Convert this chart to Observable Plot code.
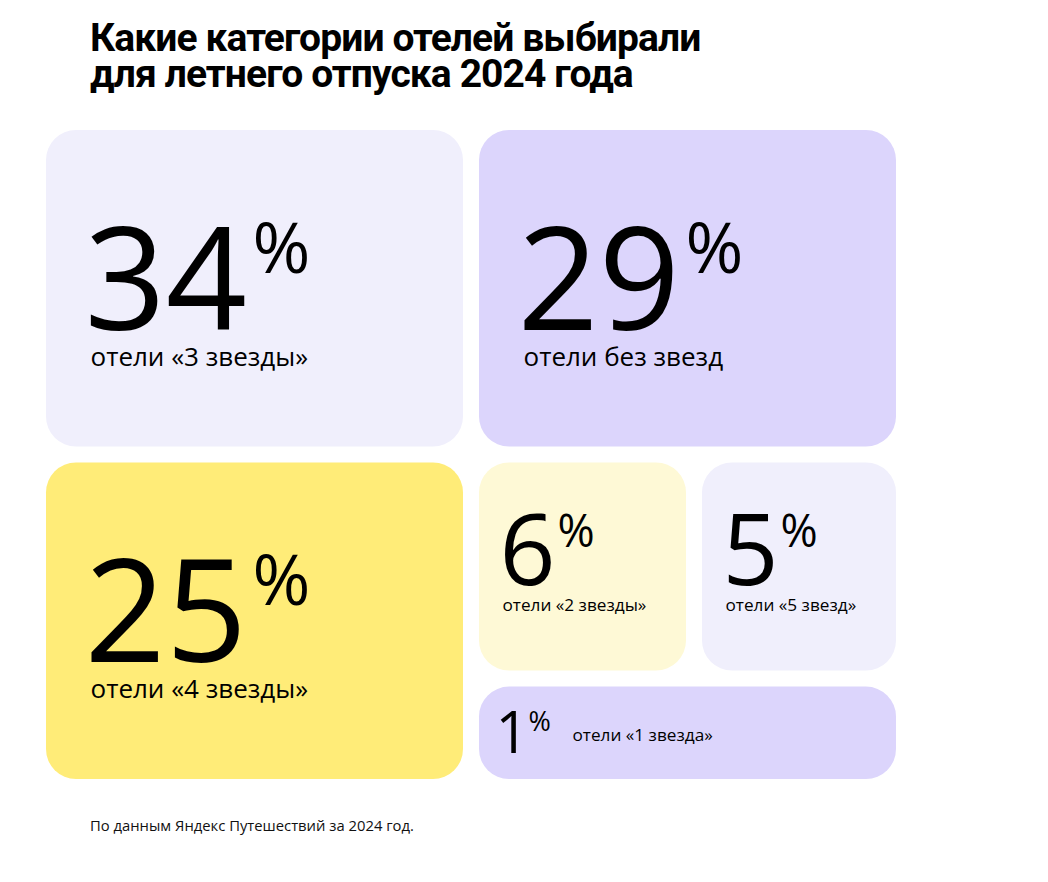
<!DOCTYPE html>
<html>
<head>
<meta charset="utf-8">
<script src="https://cdn.jsdelivr.net/npm/d3@7"></script>
<script src="https://cdn.jsdelivr.net/npm/@observablehq/plot@0.6"></script>
<style>
  html, body { margin: 0; padding: 0; background: #ffffff; }
  #wrap { width: 1048px; height: 882px; position: relative; overflow: hidden; }
  #title { height: 110px; box-sizing: border-box; padding: 20px 0 0 90px; font-family: Roboto, "Open Sans", sans-serif; font-weight: 700; font-size: 39px; line-height: 36px; letter-spacing: -0.9px; color: #000; }
  #chart { height: 690px; }
  #caption { padding: 17px 0 0 90px; font-family: "Open Sans", sans-serif; font-size: 14.8px; line-height: 16px; color: #111; }
  svg text { font-family: "Open Sans", sans-serif; }
</style>
</head>
<body>
<div id="wrap">
  <div id="title">Какие категории отелей выбирали<br>для летнего отпуска 2024 года</div>
  <div id="chart"></div>
  <div id="caption">По данным Яндекс Путешествий за 2024 год.</div>
</div>
<script>
// ---- data ----
const categories = ["отели «3 звезды»", "отели без звезд", "отели «4 звезды»", "отели «2 звезды»", "отели «5 звезд»", "отели «1 звезда»"];
const shares = [34, 29, 25, 6, 5, 1];

// ---- layout (design grid, fractions of the panel) ----
const tileGrid = [
  [0, 0.5, 0, 0.5],
  [0.5, 1, 0, 0.5],
  [0, 0.5, 0.5, 1],
  [0.5, 0.7575, 0.5, 0.837],
  [0.7575, 1, 0.5, 0.837],
  [0.5, 1, 0.837, 1]
];
const tileClass = ["big", "big", "big", "mid", "mid", "small"];
const tileFill = ["#f0effc", "#dcd5fc", "#ffec78", "#fef9d6", "#f0effc", "#dcd5fc"];

const tiles = categories.map((c, i) => ({
  category: c, share: shares[i],
  x1: tileGrid[i][0], x2: tileGrid[i][1], y1: tileGrid[i][2], y2: tileGrid[i][3],
  cls: tileClass[i], fill: tileFill[i]
}));

const inset = 8;
// text styling per size class (offsets from tile's visible top-left corner)
const styles = {
  big:   {num: 142, numDx: 38, numDy: 199, pct: 70, pctDx: 206, pctDy: 142, lab: 26, labDx: 44, labDy: 235},
  mid:   {num: 98,  numDx: 20, numDy: 122, pct: 45, pctDx: 78,  pctDy: 84,  lab: 17.2, labDx: 23, labDy: 148},
  small: {num: 58,  numDx: 16, numDy: 66,  pct: 27, pctDx: 49,  pctDy: 44,  lab: 17.2, labDx: 93, labDy: 54}
};

const marks = [
  Plot.rect(tiles, {x1: "x1", x2: "x2", y1: "y1", y2: "y2", fill: "fill", inset, rx: 30, ry: 30})
];
for (const [cls, s] of Object.entries(styles)) {
  const sub = tiles.filter(d => d.cls === cls);
  marks.push(
    Plot.text(sub, {x: "x1", y: "y1", text: d => String(d.share), textAnchor: "start", lineAnchor: "bottom",
      dx: inset + s.numDx, dy: inset + s.numDy, fontSize: s.num, fill: "#000", fontWeight: 400}),
    Plot.text(sub, {x: "x1", y: "y1", text: d => "%", textAnchor: "start", lineAnchor: "bottom",
      dx: inset + s.pctDx, dy: inset + s.pctDy, fontSize: s.pct, fill: "#000", fontWeight: 400}),
    Plot.text(sub, {x: "x1", y: "y1", text: "category", textAnchor: "start", lineAnchor: "bottom",
      dx: inset + s.labDx, dy: inset + s.labDy, fontSize: s.lab, fill: "#000", fontWeight: 400})
  );
}

const chart = Plot.plot({
  width: 1048,
  height: 690,
  margin: 0,
  x: {domain: [0, 1], range: [38, 904], axis: null},
  y: {domain: [0, 1], range: [12, 677], axis: null},
  color: {type: "identity"},
  style: {background: "transparent"},
  marks
});
document.getElementById("chart").appendChild(chart);
</script>
</body>
</html>
